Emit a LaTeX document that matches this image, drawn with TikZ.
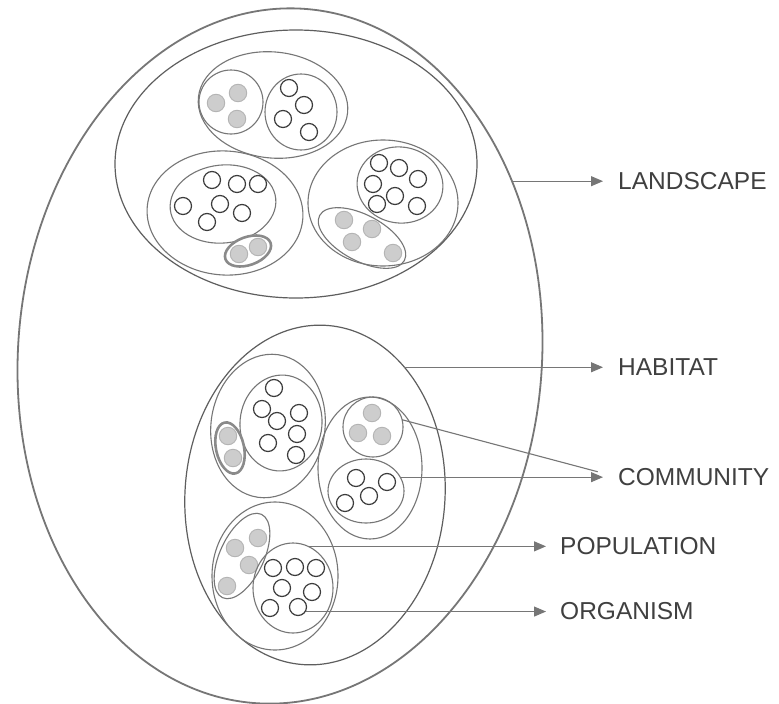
\documentclass[tikz,border=0pt]{standalone}
\usepackage{fontspec}
\setmainfont{Liberation Sans}
\usetikzlibrary{shapes.geometric,arrows.meta}
\definecolor{rim}{HTML}{767676}
\definecolor{rimdark}{HTML}{5E5E5E}
\definecolor{dotline}{HTML}{3C3C3C}
\definecolor{grayfill}{HTML}{CDCDCD}
\definecolor{grayline}{HTML}{B4B4B4}
\definecolor{pairline}{HTML}{8A8A8A}
\definecolor{txt}{HTML}{404040}
\begin{document}
\begin{tikzpicture}[x=1pt,y=-1pt,
  ring/.style={ellipse,draw=rim,line width=1.1pt,inner sep=0pt,outer sep=0pt},
  sz/.style 2 args={minimum width={2*#1pt},minimum height={2*#2pt}},
  dotW/.style={circle,draw=dotline,fill=white,line width=1.2pt,inner sep=0pt,minimum size=17pt},
  dotG/.style={circle,draw=grayline,fill=grayfill,line width=0.9pt,inner sep=0pt,minimum size=17.5pt},
  pair/.style={ellipse,draw=pairline,line width=2.6pt,fill=white,inner sep=0pt},
  lbl/.style={text=txt,font=\fontsize{24.5}{28}\selectfont,inner sep=0pt,anchor=west},
  link/.style={draw=rim,line width=1.1pt,-{Triangle[length=12pt,width=10pt]},shorten >=15pt},
  feeder/.style={draw=rim,line width=1.1pt,shorten >=21pt}]
\useasboundingbox (0,0) rectangle (779,704);
\fill[white] (0,0) rectangle (779,704);

% whole landscape and the two habitats
\node[ring,draw=rim,line width=1.8pt,sz={262}{348},rotate=-4] (world) at (280,356) {};
\node[ring,draw=rimdark,line width=1.2pt,sz={181}{134}] (upperHab) at (296,164) {};
\node[ring,draw=rimdark,line width=1.2pt,sz={130}{170},rotate=-4] (habitat) at (315,495) {};

% ---- upper habitat ----
% top community
\node[ring,sz={75}{53},rotate=-6] (cA) at (273,105) {};
\node[ring,sz={32}{32}] (pGa) at (231,102) {};
\node[ring,sz={36}{38}] (pWa) at (301,112) {};
\foreach \p [count=\i] in {(238,93),(216,103),(237,119)} \node[dotG] (gA\i) at \p {};
\foreach \p [count=\i] in {(289,88),(304,105),(283,119),(309,132)} \node[dotW] (wA\i) at \p {};
% left community
\node[ring,sz={78}{62},rotate=-4] (cB) at (225,213) {};
\node[ring,sz={53}{39},rotate=6] (pWb) at (223,204) {};
\foreach \p [count=\i] in {(212,180),(237,184),(258,184),(183,206),(220,204),(242,213),(207,222)} \node[dotW] (wB\i) at \p {};
\node[pair,sz={24}{14},rotate=20] (pairB) at (248,251) {};
\foreach \p [count=\i] in {(239,254),(258,247)} \node[dotG] (gB\i) at \p {};
% right community
\node[ring,sz={75}{63}] (cC) at (383,203) {};
\node[ring,sz={43}{38},rotate=-8] (pWc) at (400,185) {};
\foreach \p [count=\i] in {(379,163),(399,168),(418,179),(373,184),(395,196),(377,204),(417,206)} \node[dotW] (wC\i) at \p {};
\node[ring,sz={48}{23},rotate=-28] (pGc) at (362,238) {};
\foreach \p [count=\i] in {(344,220),(372,229),(352,242),(393,253)} \node[dotG] (gC\i) at \p {};

% ---- lower habitat ----
% upper left community
\node[ring,sz={57}{72},rotate=-8] (cD) at (268,426) {};
\node[ring,sz={41}{48},rotate=-5] (pWd) at (281,423) {};
\foreach \p [count=\i] in {(274,388),(262,409),(277,421),(299,413),(297,434),(268,443),(296,455)} \node[dotW] (wD\i) at \p {};
\node[pair,sz={14}{26},rotate=12] (pairD) at (230,448) {};
\foreach \p [count=\i] in {(228,436),(233,458)} \node[dotG] (gD\i) at \p {};
% right community
\node[ring,sz={52}{71}] (cE) at (370,468) {};
\node[ring,sz={30}{30}] (pGe) at (373,427) {};
\foreach \p [count=\i] in {(372,413),(358,433),(382,436)} \node[dotG] (gE\i) at \p {};
\node[ring,sz={38}{32}] (pWe) at (366,491) {};
\foreach \p [count=\i] in {(356,478),(387,482),(369,496),(345,503)} \node[dotW] (wE\i) at \p {};
% lower community
\node[ring,sz={63}{74}] (cF) at (275,576) {};
\node[ring,sz={22}{46},rotate=-25] (pGf) at (242,556) {};
\foreach \p [count=\i] in {(258,538),(235,548),(249,565),(227,586)} \node[dotG] (gF\i) at \p {};
\node[ring,sz={40}{45}] (pWf) at (293,588) {};
\foreach \p [count=\i] in {(273,568),(295,567),(316,568),(282,588),(312,592),(270,608),(298,607)} \node[dotW] (wF\i) at \p {};

% ---- labels and leaders ----
\coordinate (colA) at (618,0);
\coordinate (colB) at (560,0);
\node[lbl] (tLandscape) at (world.41 -| colA) {LANDSCAPE};
\node[lbl] (tHabitat) at (habitat.59 -| colA) {HABITAT};
\node[lbl] (tCommunity) at (pWe.22 -| colA) {COMMUNITY};
\node[lbl] (tPopulation) at (pWf.70 -| colB) {POPULATION};
\node[lbl] (tOrganism) at (wF7.-30 -| colB) {ORGANISM};

\draw[link] (world.41) -- (tLandscape.west);
\draw[link] (habitat.59) -- (tHabitat.west);
\draw[feeder] (pGe.14) -- (tCommunity.west);
\draw[link] (pWe.22) -- (tCommunity.west);
\draw[link,shorten >=14pt] (pWf.70) -- (tPopulation.west);
\draw[link,shorten >=14pt] (wF7.-30) -- (tOrganism.west);
\end{tikzpicture}
\end{document}
